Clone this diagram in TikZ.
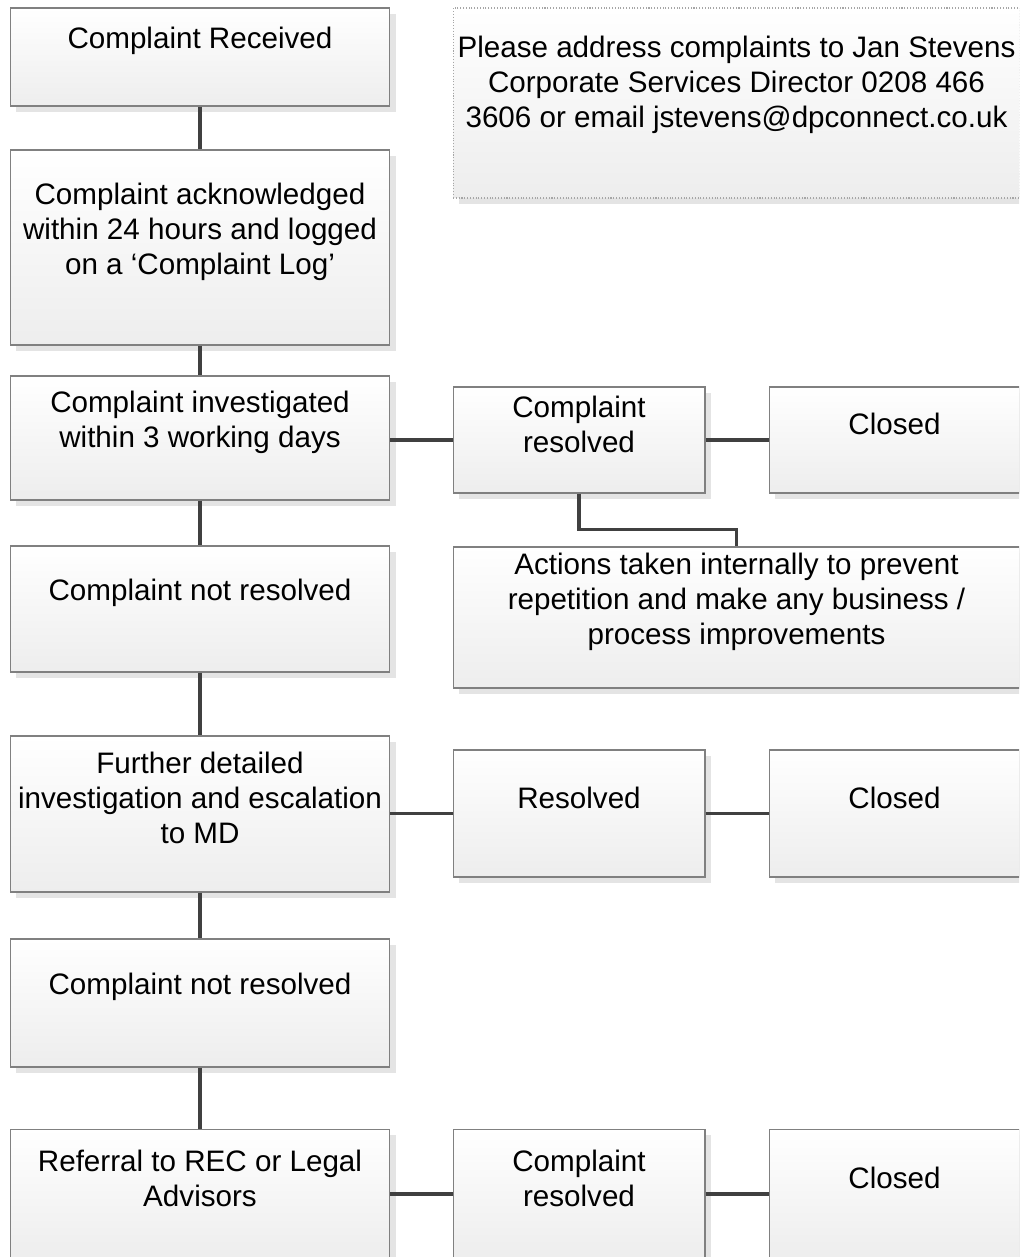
\documentclass[tikz,border=0pt]{standalone}
\usepackage{fontspec}
\setmainfont{Liberation Sans}
\usepackage{tikz}
\usetikzlibrary{shadows}

\definecolor{boxline}{RGB}{128,128,128}
\definecolor{linkgray}{RGB}{64,64,64}
\definecolor{shadowgray}{RGB}{228,228,228}

\tikzset{
  stage/.style={rectangle, draw=boxline, line width=0.6pt, top color=white, bottom color=black!7,
    drop shadow={shadow xshift=0.12cm, shadow yshift=-0.12cm, fill=shadowgray, opacity=1}},
  notebox/.style={stage, densely dotted, draw=boxline!70},
  words/.style={font=\fontsize{16.85}{19.9}\selectfont, align=center, yshift=0.32cm, inner sep=0pt},
  link/.style={draw=linkgray, line width=2.2pt},
}

\begin{document}
\begin{tikzpicture}[x=0.02cm, y=-0.02cm]
% page frame
\useasboundingbox (0,0) rectangle (1019,1257);
\clip (0,0) rectangle (1019,1257);

% left column
\node[stage, minimum width=7.6cm, minimum height=1.96cm, label={[words]center:Complaint Received}] (received) at (200,57) {};
\node[stage, minimum width=7.6cm, minimum height=3.9cm, label={[words]center:Complaint acknowledged\\within 24 hours and logged\\on a ‘Complaint Log’}] (logged) at (200,247.5) {};
\node[stage, minimum width=7.6cm, minimum height=2.48cm, label={[words]center:Complaint investigated\\within 3 working days}] (investigated) at (200,438) {};
\node[stage, minimum width=7.6cm, minimum height=2.52cm, label={[words]center:Complaint not resolved}] (notresolved) at (200,609) {};
\node[stage, minimum width=7.6cm, minimum height=3.12cm, label={[words]center:Further detailed\\investigation and escalation\\to MD}] (escalated) at (200,814) {};
\node[stage, minimum width=7.6cm, minimum height=2.56cm, label={[words]center:Complaint not resolved}] (stillopen) at (200,1003) {};
\node[stage, minimum width=7.6cm, minimum height=2.6cm, label={[words]center:Referral to REC or Legal\\Advisors}] (referral) at (200,1194) {};

% contact note
\node[notebox, minimum width=11.34cm, minimum height=3.8cm, label={[words, yshift=0.04cm]center:Please address complaints to Jan Stevens\\Corporate Services Director 0208 466\\3606 or email jstevens@dpconnect.co.uk}] (note) at (736.5,103) {};

% outcomes
\node[stage, minimum width=5.04cm, minimum height=2.12cm, label={[words]center:Complaint\\resolved}] (resolvedA) at (579,440) {};
\node[stage, minimum width=5.02cm, minimum height=2.12cm, label={[words]center:Closed}] (closedA) at (894.5,440) {};
\node[stage, minimum width=11.34cm, minimum height=2.82cm, label={[words]center:Actions taken internally to prevent\\repetition and make any business /\\process improvements}] (actions) at (736.5,617.5) {};
\node[stage, minimum width=5.04cm, minimum height=2.54cm, label={[words]center:Resolved}] (resolvedB) at (579,813.5) {};
\node[stage, minimum width=5.02cm, minimum height=2.54cm, label={[words]center:Closed}] (closedB) at (894.5,813.5) {};
\node[stage, minimum width=5.04cm, minimum height=2.6cm, label={[words]center:Complaint\\resolved}] (resolvedC) at (579,1194) {};
\node[stage, minimum width=5.02cm, minimum height=2.6cm, label={[words]center:Closed}] (closedC) at (894.5,1194) {};

% connectors
\draw[link] (received) -- (logged);
\draw[link] (logged) -- (investigated);
\draw[link] (investigated) -- (notresolved);
\draw[link] (notresolved) -- (escalated);
\draw[link] (escalated) -- (stillopen);
\draw[link] (stillopen) -- (referral);
\draw[link] (investigated.east |- resolvedA) -- (resolvedA);
\draw[link] (resolvedA) -- (closedA);
\draw[link] (resolvedA.south) -- ++(0,36) -| (actions.north);
\draw[link] (escalated.east |- resolvedB) -- (resolvedB);
\draw[link] (resolvedB) -- (closedB);
\draw[link] (referral.east |- resolvedC) -- (resolvedC);
\draw[link] (resolvedC) -- (closedC);
\end{tikzpicture}
\end{document}
